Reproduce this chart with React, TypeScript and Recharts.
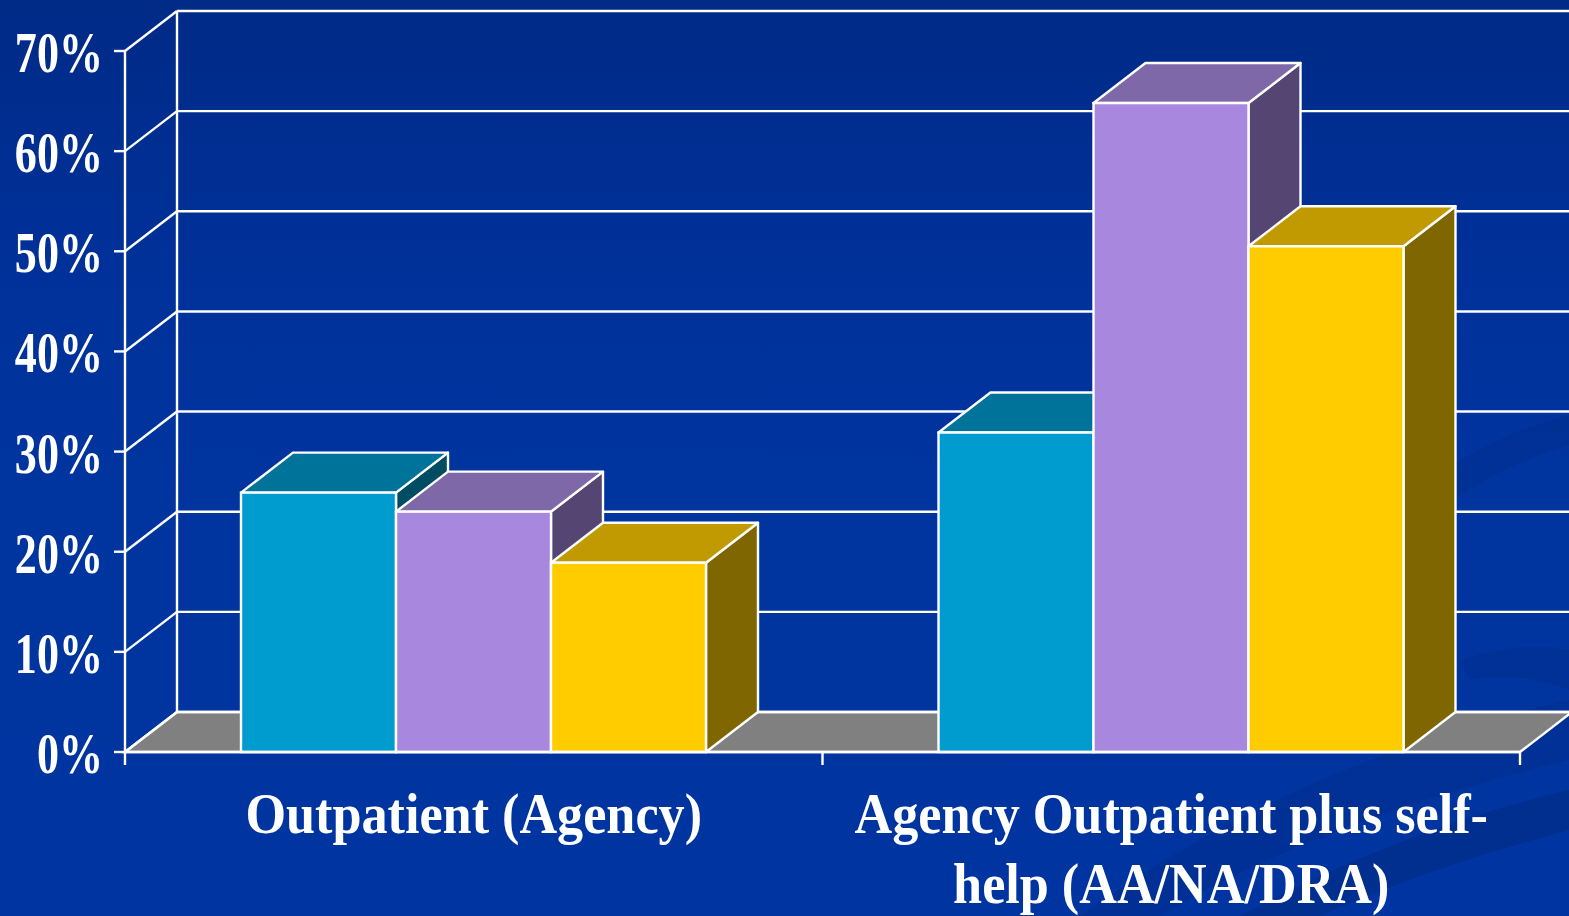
import { BarChart, Bar, XAxis, YAxis, CartesianGrid } from 'recharts'

const categories = ['Outpatient (Agency)', 'Agency Outpatient plus self-\nhelp (AA/NA/DRA)']
const cyanValues = [25.9, 31.9]
const purpleValues = [24.0, 64.8]
const yellowValues = [18.9, 50.5]
const yTicks = [0, 10, 20, 30, 40, 50, 60, 70]

const data = categories.map((name, i) => ({
    name,
    cyan: cyanValues[i],
    purple: purpleValues[i],
    yellow: yellowValues[i],
}))

const W = 1569
const H = 916
const X_AXIS_H = 30
const MARGIN = { top: 51, right: 49, bottom: 164 - X_AXIS_H, left: 0 }
const Y_AXIS_W = 125
const DX = 52 // depth of the 3d box
const DY = 40
const LINE = '#ffffff'
const SW = 2.4
const FONT = '"Liberation Serif", "Times New Roman", serif'

const colors = {
    cyan: { front: '#009ccf', top: '#00739a', side: '#004d63' },
    purple: { front: '#a887df', top: '#7f68a8', side: '#554573' },
    yellow: { front: '#ffcc00', top: '#c19900', side: '#806600' },
}

const plotLeft = MARGIN.left + Y_AXIS_W
const plotRight = W - MARGIN.right
const plotTop = MARGIN.top
const plotBottom = H - MARGIN.bottom - X_AXIS_H
const halfBand = (plotRight - plotLeft) / categories.length / 2

function box3d(c: { front: string; top: string; side: string }) {
    return (props: any) => {
        const { x, y, width: w, height: h } = props
        if (w == null || h == null) return <g />
        const side = `${x + w},${y} ${x + w + DX},${y - DY} ${x + w + DX},${y + h - DY} ${x + w},${y + h}`
        const top = `${x},${y} ${x + DX},${y - DY} ${x + w + DX},${y - DY} ${x + w},${y}`
        return (
            <g>
                <polygon points={side} fill={c.side} stroke={LINE} strokeWidth={SW} strokeLinejoin="round" />
                <polygon points={top} fill={c.top} stroke={LINE} strokeWidth={SW} strokeLinejoin="round" />
                <rect x={x} y={y} width={w} height={h} fill={c.front} stroke={LINE} strokeWidth={SW} />
            </g>
        )
    }
}

// back wall lines + diagonals, floor on the 0% line
function gridLine(props: any) {
    const { x1, x2, y1, key } = props
    const isFloor = Math.abs(y1 - plotBottom) < 1
    return (
        <g key={key}>
            {isFloor && (
                <polygon
                    points={`${x1},${y1} ${x1 + DX},${y1 - DY} ${x2 + DX},${y1 - DY} ${x2},${y1}`}
                    fill="#808080"
                    stroke={LINE}
                    strokeWidth={SW}
                />
            )}
            {isFloor && <line x1={x1 + DX} y1={y1 - DY} x2={x1 + DX} y2={plotTop - DY} stroke={LINE} strokeWidth={SW} />}
            <line x1={x1 + DX} y1={y1 - DY} x2={x2 + DX} y2={y1 - DY} stroke={LINE} strokeWidth={SW} />
            <line x1={x1} y1={y1} x2={x1 + DX} y2={y1 - DY} stroke={LINE} strokeWidth={SW} />
        </g>
    )
}

function YTick(props: any) {
    const { x, y, payload } = props
    return (
        <text
            transform={`translate(${x},${y + 21}) scale(0.76,1)`}
            textAnchor="end"
            fill="#fff"
            fontFamily={FONT}
            fontWeight="bold"
            fontSize={58}
        >
            {`${payload.value}%`}
        </text>
    )
}

function XTick(props: any) {
    const { x, y, payload, index } = props
    const lines = String(payload.value).split('\n')
    const last = index === categories.length - 1
    return (
        <g>
            <line x1={x - halfBand} y1={y} x2={x - halfBand} y2={y + 13} stroke={LINE} strokeWidth={SW} />
            {last && <line x1={x + halfBand} y1={y} x2={x + halfBand} y2={y + 13} stroke={LINE} strokeWidth={SW} />}
            {lines.map((l, i) => (
                <text
                    key={i}
                    transform={`translate(${x},${y + 81 + i * 70}) scale(0.9,1)`}
                    textAnchor="middle"
                    fill="#fff"
                    fontFamily={FONT}
                    fontWeight="bold"
                    fontSize={58}
                >
                    {l}
                </text>
            ))}
        </g>
    )
}

export default function App() {
    return (
        <div
            style={{
                position: 'absolute',
                left: 0,
                top: 0,
                width: W,
                height: H,
                overflow: 'hidden',
                background: 'linear-gradient(180deg, #002a86 0%, #00319a 30%, #0035a0 60%, #0034a0 100%)',
            }}
        >
            <svg width={W} height={H} style={{ position: 'absolute', left: 0, top: 0 }}>
                <path d="M 1080 916 Q 1300 760 1569 700 L 1569 760 Q 1320 820 1160 916 Z" fill="#002d88" opacity={0.45} />
                <path d="M 1240 916 Q 1400 830 1569 790 L 1569 830 Q 1420 870 1320 916 Z" fill="#002a80" opacity={0.5} />
                <path d="M 1380 520 Q 1470 440 1569 415 L 1569 445 Q 1480 470 1400 540 Z" fill="#002d88" opacity={0.4} />
                <path d="M 1460 660 Q 1520 640 1569 650 L 1569 690 Q 1520 670 1470 680 Z" fill="#002a80" opacity={0.35} />
            </svg>
            <BarChart
                width={W}
                height={H}
                data={data}
                margin={MARGIN}
                barGap={0}
                barSize={155}
                style={{ position: 'absolute', left: 0, top: 0 }}
            >
                <CartesianGrid horizontal={gridLine} vertical={false} />
                <XAxis
                    dataKey="name"
                    height={X_AXIS_H}
                    axisLine={{ stroke: LINE, strokeWidth: SW }}
                    tickLine={false}
                    tickSize={0}
                    tickMargin={0}
                    tick={<XTick />}
                    interval={0}
                />
                <YAxis
                    width={Y_AXIS_W}
                    domain={[0, 70]}
                    ticks={yTicks}
                    interval={0}
                    axisLine={{ stroke: LINE, strokeWidth: SW }}
                    tickLine={{ stroke: LINE, strokeWidth: SW }}
                    tickSize={11}
                    tickMargin={11}
                    tick={<YTick />}
                />
                <Bar dataKey="cyan" shape={box3d(colors.cyan)} isAnimationActive={false} />
                <Bar dataKey="purple" shape={box3d(colors.purple)} isAnimationActive={false} />
                <Bar dataKey="yellow" shape={box3d(colors.yellow)} isAnimationActive={false} />
            </BarChart>
        </div>
    )
}
